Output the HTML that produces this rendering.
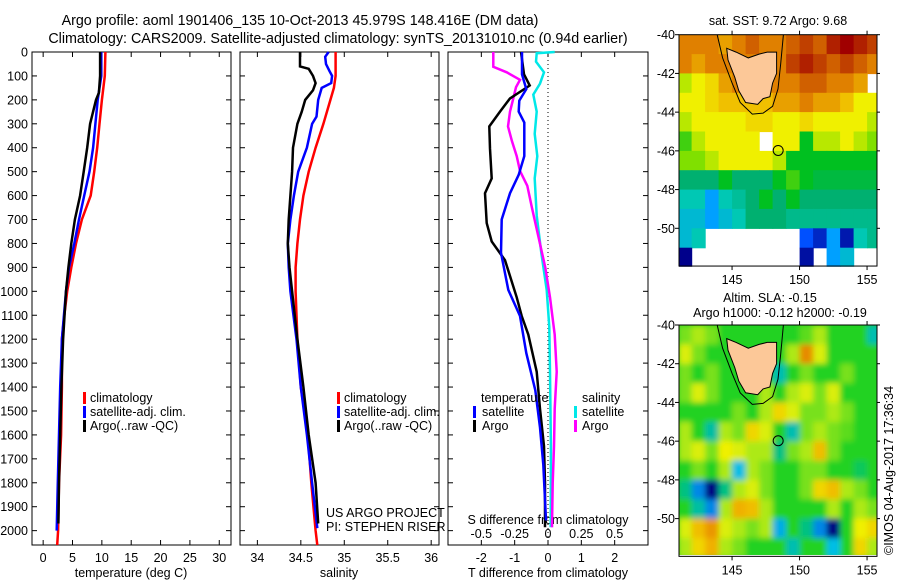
<!DOCTYPE html>
<html><head><meta charset="utf-8"><style>
html,body{margin:0;padding:0;background:#fff;}
svg{display:block;font-family:"Liberation Sans",sans-serif;}
text{fill:#000;}
</style></head><body>
<svg id="chart" width="900" height="580" viewBox="0 0 900 580">
<defs>
<clipPath id="clipTop"><rect x="679" y="34.7" width="198" height="232"/></clipPath>
<clipPath id="clipBot"><rect x="679" y="325" width="198" height="230"/></clipPath>
<filter id="blur" x="-10%" y="-10%" width="120%" height="120%"><feGaussianBlur stdDeviation="3"/></filter>
</defs>
<text x="300" y="25" font-size="14.3" text-anchor="middle">Argo profile: aoml 1901406_135 10-Oct-2013 45.979S 148.416E (DM data)</text>
<text x="338" y="43" font-size="14.3" text-anchor="middle">Climatology: CARS2009. Satellite-adjusted climatology: synTS_20131010.nc (0.94d earlier)</text>
<g id="g"></g>
</svg>
<script>
// ---------- profile data ----------
const tClimDepth=[0,100,200,300,400,500,600,700,800,900,1000,1100,1200,1400,1600,1800,2000,2060];
const tClimVal=[10.6,10.5,10.0,9.6,9.2,8.7,8.1,6.6,5.6,4.8,4.1,3.6,3.2,3.2,3.05,2.7,2.55,2.4];
const tSatDepth=[0,100,200,300,400,500,600,700,800,900,1000,1200,1400,1600,1800,2000];
const tSatVal=[9.9,9.9,9.3,8.9,8.5,7.9,7.0,6.1,5.3,4.4,3.9,3.2,2.9,2.7,2.5,2.3];
const tArgoDepth=[0,100,170,200,300,400,500,600,700,800,900,1000,1200,1400,1600,1800,1970];
const tArgoVal=[9.7,9.7,9.5,9.0,8.0,7.5,6.9,6.3,5.4,4.8,4.3,3.9,3.4,3.1,2.9,2.7,2.6];

const sClimDepth=[0,100,150,200,300,400,500,600,700,800,900,1000,1100,1200,1400,1600,1800,2000,2060];
const sClimVal=[34.90,34.90,34.88,34.84,34.76,34.67,34.59,34.53,34.49,34.46,34.44,34.44,34.45,34.46,34.50,34.58,34.62,34.67,34.69];
const sSatDepth=[0,20,50,80,100,130,150,200,270,300,400,500,600,700,800,900,1000,1200,1400,1600,1800,1990];
const sSatVal=[34.82,34.78,34.79,34.83,34.86,34.85,34.74,34.70,34.68,34.63,34.57,34.47,34.42,34.38,34.35,34.36,34.38,34.45,34.50,34.57,34.63,34.69];
const sArgoDepth=[0,60,70,100,130,160,200,250,300,400,500,600,700,800,900,1000,1200,1400,1600,1800,1970];
const sArgoVal=[34.49,34.49,34.59,34.64,34.67,34.64,34.55,34.51,34.46,34.41,34.40,34.38,34.36,34.35,34.37,34.40,34.46,34.53,34.59,34.67,34.70];

const dTArgoDepth=[0,93,140,194,249,311,404,528,590,715,792,870,1025,1103,1181,1336,1491,1647,1802,1986];
const dTArgoVal=[-0.81,-0.72,-0.55,-1.14,-1.44,-1.76,-1.74,-1.69,-1.89,-1.84,-1.69,-1.29,-0.94,-0.79,-0.59,-0.34,-0.24,-0.12,-0.09,-0.09];
const dTSatDepth=[0,93,155,203,249,295,435,513,590,700,839,994,1103,1258,1413,1569,1724,1957];
const dTSatVal=[-0.78,-0.78,-0.65,-0.86,-0.88,-0.71,-0.71,-0.88,-1.14,-1.39,-1.41,-1.19,-0.84,-0.65,-0.38,-0.24,-0.14,-0.06];
const dSArgoDepth=[0,62,85,116,147,194,249,311,373,435,497,559,652,777,901,1025,1181,1336,1491,1647,1802,1986];
const dSArgoVal=[-0.41,-0.41,-0.31,-0.21,-0.24,-0.26,-0.285,-0.30,-0.27,-0.235,-0.21,-0.155,-0.12,-0.07,-0.02,0.015,0.05,0.065,0.05,0.045,0.035,0.03];
const dSSatDepth=[0,5,40,85,132,178,249,342,435,528,683,839,994,1149,1336,1647,1986];
const dSSatVal=[0.05,-0.085,-0.09,-0.03,-0.06,-0.11,-0.085,-0.10,-0.08,-0.10,-0.085,-0.05,-0.01,0.01,0.015,0.022,0.02];

const depthTicks=[0,100,200,300,400,500,600,700,800,900,1000,1100,1200,1300,1400,1500,1600,1700,1800,1900,2000];
const tTicks=[0,5,10,15,20,25,30];
const sTicks=[34,34.5,35,35.5,36];
const sTickLabels=["34","34.5","35","35.5","36"];
const dtTicks=[-2,-1,0,1,2];
const dsTicks=[-0.5,-0.25,0,0.25,0.5];

// ---------- map data (1-degree cells, rows lat -40..-52, cols lon 141..156) ----------
const sstRows=[
[7,7,7,6.5,7,7.5,7,7,7.5,8,7.5,8.5,9,8.5,8],
[7,6.5,7,7,7,7,7,7,8,8.5,8,7.5,8,7.5,7],
[4.5,5,5.5,6.5,7,7,7,7,7,7.5,7.5,7,7,6.5,null],
[5,5,5.5,6,6,6,6,6.5,6.5,7,6.5,6.5,6,5,5],
[4.5,5,5,5,5,5.5,5.5,5,5,5.5,5,5,5,5,4.5],
[3.5,4.5,5,5,5,5,null,5,5,3,4.5,4.5,5,4.5,4],
[4,4,4.5,5,5,5,5,4.5,3,3,3,3,3,3,3],
[2.5,2.5,2.5,3,2.5,2.5,2.5,3,3.5,3,2.8,2.8,2.8,2.8,2.8],
[2,2,1.5,2,2.2,2.5,3,2.5,3,2.5,2.5,2.5,2.5,2.5,2.5],
[1.8,1.8,1.5,1.8,2,2.5,2.5,2.5,2.3,2.3,2.3,2.3,2.3,2.3,2.3],
[1.8,2,null,null,null,null,null,null,null,1,0.5,1.5,0.3,2,2.3],
[0,null,null,null,null,null,null,null,null,0.2,null,1.5,1.8,null,null]];
const slaRows=[
[0.3,0.5,0.3,0,0,0,0,0,0,0.2,0.5,0,0,0,-0.8],
[0.7,0.3,0,0,0,0,0,0,0.5,1.6,0.7,0,0,0,0],
[0.3,0,0.3,0,0,0,0,-0.8,0,0.3,0,0,0.3,0,0],
[0.3,0.7,0.3,0,0,0,0.5,0,0.5,0.7,0.3,0.7,0,0,0],
[0,0,0,0,0.3,0,0.5,1,0.7,0.3,0.3,0.5,0.3,0,0],
[0.5,0,-0.7,0.5,0.3,1,0.7,0,-0.8,0.3,0.5,0.3,0.2,0,0],
[0.5,0.7,0.3,0.8,0.7,0.5,0.5,-0.5,0.3,0.5,1.2,0.3,0,0,0],
[0,0.3,0,0.5,-1.2,0.5,0.3,0,0,0.3,0.3,0,0,-0.3,0],
[-0.5,-1.5,-2.5,-0.5,0.5,0.7,0.3,0,0,0.3,1,1.2,0.5,0.3,0],
[0,-0.7,-1.5,0.5,1.3,1.2,0.5,0,0,0,0,0.5,0,0.5,0.3],
[0.7,1.2,1.5,0.7,0.5,0.3,0.5,-1.3,0,-0.5,-1.5,-2.5,0,0.8,1],
[0.5,1,1.3,0.5,0.3,0,0,0,-0.8,0,0,-1.2,0,1,0.5]];
const landLon=[144.6,145.3,146.2,147.0,147.6,148.3,148.3,148.0,147.8,147.3,146.9,146.0,145.5,145.2,144.7];
const landLat=[-40.7,-40.9,-41.2,-41.0,-40.9,-40.9,-42.0,-42.5,-43.2,-43.3,-43.6,-43.5,-42.9,-42.2,-41.3];
const contLon=[143.9,144.3,145.0,145.6,146.5,147.3,148.0,148.4,148.6,148.8];
const contLat=[-40.0,-41.2,-42.5,-43.5,-44.1,-44.05,-43.7,-42.8,-41.5,-40.0];
const argoLon=148.416, argoLat=-45.979;

// ---------- drawing ----------
const NS='http://www.w3.org/2000/svg';
const G=document.getElementById('g');
function mk(tag,attrs,parent){const e=document.createElementNS(NS,tag);for(const k in attrs)e.setAttribute(k,attrs[k]);(parent||G).appendChild(e);return e;}
const Y0=52,Y1=545,DMAX=2060;
function yD(d){return Y0+d*(Y1-Y0)/DMAX;}
function xs(p,v){return p.x0+(v-p.vmin)*(p.x1-p.x0)/(p.vmax-p.vmin);}
const P1={x0:32,x1:231,vmin:-1.9,vmax:32};
const P2={x0:240,x1:439,vmin:33.8,vmax:36.09};
const P3={x0:448,x1:648,vmin:-3,vmax:3};

function frame(p,name,labelDepth){
  const r=mk('rect',{x:p.x0,y:Y0,width:p.x1-p.x0,height:Y1-Y0,fill:'none',stroke:'#000','stroke-width':1});
  
  
  depthTicks.forEach(d=>{
    mk('line',{x1:p.x0,x2:p.x0+5,y1:yD(d),y2:yD(d),stroke:'#000'});
    mk('line',{x1:p.x1,x2:p.x1-5,y1:yD(d),y2:yD(d),stroke:'#000'});
    if(labelDepth){const t=mk('text',{x:28,y:yD(d)+4.5,'font-size':12.5,'text-anchor':'end'});t.textContent=d;
      
      }
  });
}
function line(p,ds,vs,color,name,scale){
  const pts=ds.map((d,i)=>xs(p,vs[i]*(scale||1)).toFixed(1)+','+yD(d).toFixed(1)).join(' ');
  const l=mk('polyline',{points:pts,fill:'none',stroke:color,'stroke-width':2.5,'stroke-linejoin':'miter'});
  
  
}
function xticks(p,ticks,labels,y,scale){
  ticks.forEach((v,i)=>{const x=xs(p,v*(scale||1));
    mk('line',{x1:x,x2:x,y1:Y1,y2:Y1-5,stroke:'#000'});
    mk('line',{x1:x,x2:x,y1:Y0,y2:Y0+5,stroke:'#000'});
    const t=mk('text',{x:x,y:y,'font-size':12.5,'text-anchor':'middle'});t.textContent=labels?labels[i]:String(v);
    
    });
}
function txt(x,y,s,name,opts){const t=mk('text',Object.assign({x:x,y:y,'font-size':12.5},opts||{}));t.textContent=s;
  
  return t;}
function legbar(x,y,color,name){const r=mk('rect',{x:x,y:y-10,width:3,height:12,fill:color});
  
  }

// panel 1
frame(P1,'temperature-panel',true);
xticks(P1,tTicks,null,562);
line(P1,tClimDepth,tClimVal,'#ff0000','temp-climatology-line');
line(P1,tSatDepth,tSatVal,'#0000ff','temp-satellite-line');
line(P1,tArgoDepth,tArgoVal,'#000000','temp-argo-line');
txt(131,577,'temperature (deg C)','temperature-axis-title',{'text-anchor':'middle'});
legbar(83,402,'#ff0000','legend-climatology-swatch');txt(90,402,'climatology','legend-climatology');
legbar(83,416,'#0000ff','legend-satellite-swatch');txt(90,416,'satellite-adj. clim.','legend-satellite');
legbar(83,430,'#000000','legend-argo-swatch');txt(90,430,'Argo(..raw -QC)','legend-argo');

// panel 2
frame(P2,'salinity-panel',false);
xticks(P2,sTicks,sTickLabels,562);
line(P2,sClimDepth,sClimVal,'#ff0000','sal-climatology-line');
line(P2,sSatDepth,sSatVal,'#0000ff','sal-satellite-line');
line(P2,sArgoDepth,sArgoVal,'#000000','sal-argo-line');
txt(339,577,'salinity','salinity-axis-title',{'text-anchor':'middle'});
legbar(337,402,'#ff0000','legend2-climatology-swatch');txt(344,402,'climatology','legend2-climatology');
legbar(337,416,'#0000ff','legend2-satellite-swatch');txt(344,416,'satellite-adj. clim.','legend2-satellite');
legbar(337,430,'#000000','legend2-argo-swatch');txt(344,430,'Argo(..raw -QC)','legend2-argo');
txt(326,517,'US ARGO PROJECT','credit-project');
txt(326,531,'PI: STEPHEN RISER','credit-pi');

// panel 3
frame(P3,'difference-panel',false);
mk('line',{x1:xs(P3,0),x2:xs(P3,0),y1:Y0,y2:Y1,stroke:'#000','stroke-dasharray':'1,3'});
dsTicks.forEach((v,i)=>{const t=txt(xs(P3,v*4),538,String(v),'s-diff-tick-label',{'text-anchor':'middle'});});
xticks(P3,dtTicks,null,562);
txt(548,524,'S difference from climatology','s-diff-axis-title',{'text-anchor':'middle'});
txt(548,577,'T difference from climatology','t-diff-axis-title',{'text-anchor':'middle'});
line(P3,dSSatDepth,dSSatVal,'#00e8e8','s-diff-satellite-line',4);
line(P3,dSArgoDepth,dSArgoVal,'#ff00ff','s-diff-argo-line',4);
line(P3,dTArgoDepth,dTArgoVal,'#000000','t-diff-argo-line');
line(P3,dTSatDepth,dTSatVal,'#0000ff','t-diff-satellite-line');
txt(481,402,'temperature','legend3-temperature-header');
legbar(473,416,'#0000ff','legend3-t-satellite-swatch');txt(482,416,'satellite','legend3-t-satellite');
legbar(473,430,'#000000','legend3-t-argo-swatch');txt(482,430,'Argo','legend3-t-argo');
txt(582,402,'salinity','legend3-salinity-header');
legbar(574,416,'#00e8e8','legend3-s-satellite-swatch');txt(582,416,'satellite','legend3-s-satellite');
legbar(574,430,'#ff00ff','legend3-s-argo-swatch');txt(582,430,'Argo','legend3-s-argo');

// ---------- maps ----------
const sstStops=[[0,[0,0,139]],[1,[0,80,255]],[1.5,[0,160,255]],[2,[0,200,180]],[2.5,[0,176,112]],[3,[0,192,32]],[4,[128,224,0]],[5,[240,240,0]],[6,[240,192,0]],[7,[224,128,0]],[8,[192,64,0]],[9,[160,0,0]]];
const slaStops=[[-2.5,[0,0,130]],[-1.8,[0,80,230]],[-1.2,[0,190,230]],[-0.6,[0,190,150]],[0,[32,210,32]],[0.4,[150,230,30]],[0.8,[240,240,0]],[1.3,[240,176,0]],[1.8,[224,112,0]]];
function cmap(stops,v){
  if(v<=stops[0][0])return 'rgb('+stops[0][1]+')';
  for(let i=1;i<stops.length;i++){if(v<=stops[i][0]){const a=stops[i-1],b=stops[i],f=(v-a[0])/(b[0]-a[0]);
    return 'rgb('+a[1].map((c,k)=>Math.round(c+(b[1][k]-c)*f)).join(',')+')';}}
  return 'rgb('+stops[stops.length-1][1]+')';
}
function drawMap(top,rows,stops,clip,name,blur){
  const LX=679,LW=198,lon0=141.07,pxLon=13.5,pxLat=19.36;
  const lonPx=l=>LX+(l-lon0)*pxLon, latPx=la=>top+(-40-la)*pxLat;
  const g=mk('g',{'clip-path':'url(#'+clip+')'});
  
  
  mk('rect',{x:LX,y:top,width:LW,height:232,fill:blur?'rgb(32,210,32)':'#fff'},g);
  const cg=mk('g',blur?{filter:'url(#blur)'}:{},g);
  rows.forEach((row,r)=>row.forEach((v,c)=>{
    if(v===null)return;
    const x=lonPx(141+c),y=latPx(-40-r);
    const cell=mk('rect',{x:x.toFixed(1),y:y.toFixed(1),width:(pxLon+0.6).toFixed(1),height:(pxLat+0.6).toFixed(1),fill:cmap(stops,v)},cg);
    
    
  }));
  const land=mk('polygon',{points:landLon.map((l,i)=>lonPx(l).toFixed(1)+','+latPx(landLat[i]).toFixed(1)).join(' '),fill:'#fcc898',stroke:'#000','stroke-width':1},g);
  
  
  const cont=mk('polyline',{points:contLon.map((l,i)=>lonPx(l).toFixed(1)+','+latPx(contLat[i]).toFixed(1)).join(' '),fill:'none',stroke:'#000','stroke-width':1},g);
  
  
  const ring=mk('circle',{cx:lonPx(argoLon),cy:latPx(argoLat),r:5,fill:'none',stroke:'#000','stroke-width':1});
  
  
  const bottom=latPx(-51.95);
  const fr=mk('rect',{x:LX,y:top,width:LW,height:bottom-top,fill:'none',stroke:'#000'});
  
  
  [-40,-42,-44,-46,-48,-50].forEach(la=>{const y=latPx(la);
    mk('line',{x1:LX-4,x2:LX,y1:y,y2:y,stroke:'#000'});mk('line',{x1:LX+LW,x2:LX+LW+3,y1:y,y2:y,stroke:'#000'});
    txt(675,y+4.5,String(la),'lat-tick-label',{'text-anchor':'end'});});
  [145,150,155].forEach(l=>{const x=lonPx(l);
    mk('line',{x1:x,x2:x,y1:top-4,y2:top,stroke:'#000'});mk('line',{x1:x,x2:x,y1:bottom,y2:bottom+4,stroke:'#000'});
    txt(x,bottom+18,String(l),'lon-tick-label',{'text-anchor':'middle'});});
}
drawMap(34.7,sstRows,sstStops,'clipTop','sst-map',false);
drawMap(325,slaRows,slaStops,'clipBot','sla-map',true);
txt(778,25,'sat. SST: 9.72 Argo: 9.68','sst-map-title',{'text-anchor':'middle'});
txt(770,302,'Altim. SLA: -0.15','sla-map-title',{'text-anchor':'middle'});
txt(780,317,'Argo h1000: -0.12 h2000: -0.19','sla-map-subtitle',{'text-anchor':'middle'});
txt(0,0,'©IMOS 04-Aug-2017 17:36:34','timestamp',{transform:'translate(893,555) rotate(-90)'});
</script>
</body></html>
